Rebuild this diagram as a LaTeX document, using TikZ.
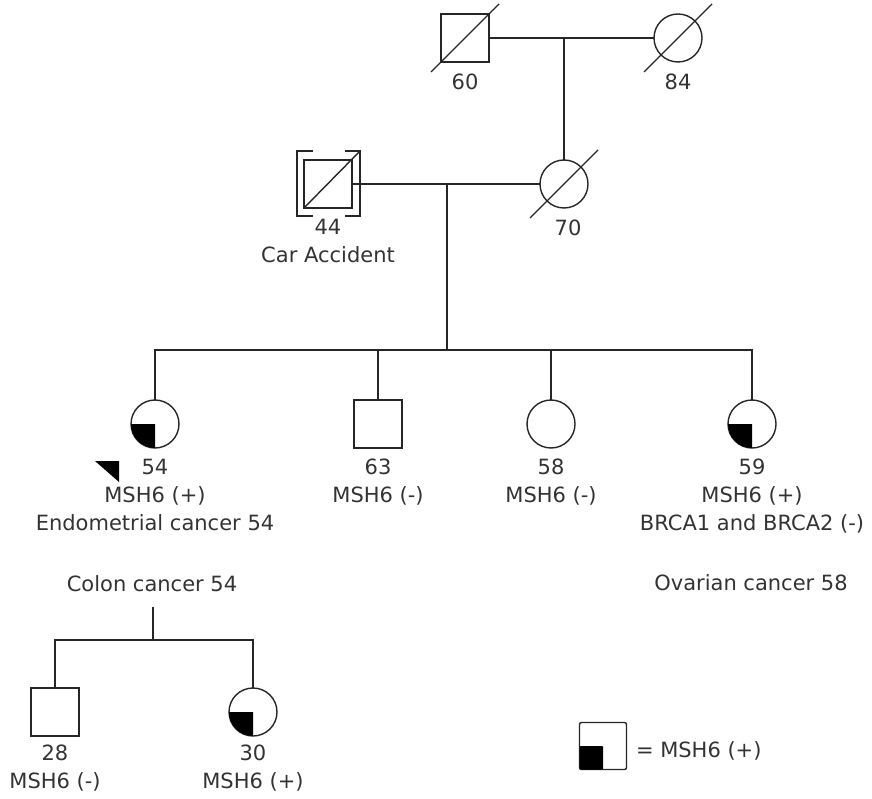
\documentclass[tikz,border=0pt]{standalone}
\usepackage{fontspec}
\setmainfont{DejaVu Sans}
\usepackage{tikz}
\usetikzlibrary{positioning}
\usetikzlibrary{calc}
\tikzstyle{pedline} = [line width=1.4pt, black!85]
\tikzstyle{male} = [draw, pedline, rectangle, minimum size=48pt, inner sep=0pt, outer sep=0pt]
\tikzstyle{female} = [draw, pedline, circle, minimum size=48pt, inner sep=0pt, outer sep=0pt]
\tikzstyle{info} = [align=center, inner sep=0pt, outer sep=0pt, font=\fontsize{21}{28}\selectfont, text=black!80]
\newcommand{\carrierf}[1]{\fill[black] (#1.center) -- (#1.west) arc[start angle=180, end angle=270, radius=24pt] -- cycle;}
\newcommand{\deceased}[1]{\draw[pedline] ($(#1.center)+(-34,34)$) -- ($(#1.center)+(34,-34)$);}

\begin{document}
\begin{tikzpicture}[x=1pt, y=-1pt]
\useasboundingbox (0,0) rectangle (872,799);

\node[male] (gf) at (465,38) {};
\node[female] (gm) at (678,38) {};
\node[male] (fa) at (328,184) {};
\node[female] (mo) at (564,184) {};
\deceased{gf}
\deceased{gm}
\deceased{mo}
\draw[pedline] (fa.south west) -- ($(fa.center)+(32,-33)$);
\draw[pedline] ($(fa.center)+(-15,-33)$) -- ++(-16,0) -- ++(0,65) -- ++(16,0);
\draw[pedline] ($(fa.center)+(17,-33)$) -- ++(15,0) -- ++(0,65) -- ++(-15,0);

\node[info, below=12pt of gf, anchor=north] (gflab) {60};
\node[info, below=12pt of gm, anchor=north] (gmlab) {84};
\node[info, below=11pt of fa, anchor=north] (falab) {44\\Car Accident};
\node[info, below=12pt of mo, anchor=north, xshift=4pt] (molab) {70};

\draw[pedline] (gf) -- (gm);
\draw[pedline] (mo.north) -- (mo |- gm);
\draw[pedline] (fa) -- (mo);
\coordinate (m2) at (447,184);
\coordinate (sib) at (447,350);
\draw[pedline] (m2) -- (sib);

\node[female] (d54) at (155,424) {};
\node[male] (s63) at (378,424) {};
\node[female] (d58) at (551,424) {};
\node[female] (d59) at (752,424) {};
\carrierf{d54}
\carrierf{d59}

\draw[pedline] (d54.north) |- (d59 |- sib) -- (d59.north);
\draw[pedline] (s63.north) -- (s63 |- sib);
\draw[pedline] (d58.north) -- (d58 |- sib);

\node[info, below=11pt of d54, anchor=north] (d54lab) {54\\MSH6 (+)\\Endometrial cancer 54};
\node[info, below=11pt of s63, anchor=north] (s63lab) {63\\MSH6 (-)};
\node[info, below=11pt of d58, anchor=north] (d58lab) {58\\MSH6 (-)};
\node[info, below=11pt of d59, anchor=north] (d59lab) {59\\MSH6 (+)\\BRCA1 and BRCA2 (-)};
\fill[black] (95,461) -- (119,461) -- (119,482) -- cycle;

\node[info, anchor=base] (colon) at (152,591) {Colon cancer 54};
\node[info, anchor=base] (ovary) at (751,590) {Ovarian cancer 58};

\coordinate (d2) at (153,607);
\coordinate (sib2) at (153,640);
\draw[pedline] (d2) -- (sib2);

\node[male] (s28) at (55,712) {};
\node[female] (d30) at (253,712) {};
\carrierf{d30}
\draw[pedline] (s28.north) |- (d30 |- sib2) -- (d30.north);

\node[info, below=9pt of s28, anchor=north] (s28lab) {28\\MSH6 (-)};
\node[info, below=9pt of d30, anchor=north] (d30lab) {30\\MSH6 (+)};

\node[male, rounded corners=2pt, minimum size=47pt] (key) at (603,746) {};
\fill[black, rounded corners=1pt] (key.center) rectangle (key.south west);
\node[info, anchor=base west] (keylab) at (636,757) {= MSH6 (+)};
\end{tikzpicture}
\end{document}
